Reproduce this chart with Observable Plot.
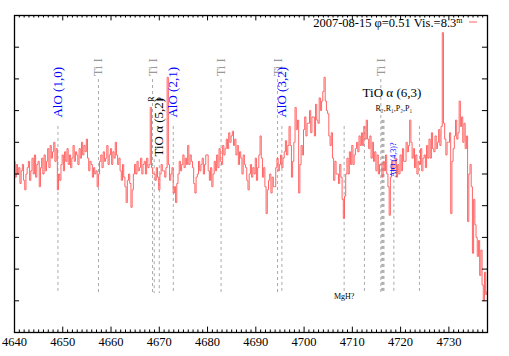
<!DOCTYPE html>
<html><head><meta charset="utf-8">
<script src="https://cdn.jsdelivr.net/npm/d3@7"></script>
<script src="https://cdn.jsdelivr.net/npm/@observablehq/plot@0.6"></script>
<style>
body{margin:0;background:#fff}
#chart svg, #chart svg text{font-family:'Liberation Serif','Times New Roman',serif !important}
</style>
</head><body><div id="chart"></div>
<script>
// spectrum sampled 4 points per Angstrom starting at 4640 A
const lambdaStart = 4640;
const pointsPerAngstrom = 4;
const flux = [
/*4640*/5.4,4.9,5.3,5.0, /*4641*/5.2,4.7,5.1,5.3, /*4642*/4.8,4.5,5.0,5.2, /*4643*/5.4,4.8,5.1,5.5,
/*4644*/5.0,5.6,4.9,5.3, /*4645*/5.4,4.6,5.2,5.5, /*4646*/5.0,5.6,5.1,5.4, /*4647*/5.8,5.2,5.9,5.5,
/*4648*/5.7,6.0,5.4,5.8, /*4649*/4.5,5.0,4.8,5.3, /*4650*/5.6,5.1,5.7,5.4, /*4651*/5.8,5.3,5.6,5.2,
/*4652*/5.5,5.9,5.4,5.7, /*4653*/5.6,5.3,5.8,5.5, /*4654*/6.0,5.6,5.9,5.7, /*4655*/6.1,5.5,5.1,5.4,
/*4656*/5.3,4.9,5.2,5.0, /*4657*/5.1,4.6,5.0,5.4, /*4658*/5.6,5.2,5.7,5.4, /*4659*/5.5,5.9,5.3,5.6,
/*4660*/5.8,5.3,5.7,5.5, /*4661*/6.0,5.6,5.3,5.5, /*4662*/5.1,4.8,5.3,4.9, /*4663*/4.6,4.1,4.8,5.0,
/*4664*/4.7,3.95,4.5,5.0, /*4665*/5.3,5.0,5.4,5.1, /*4666*/5.2,5.5,5.0,5.3, /*4667*/5.4,5.0,5.5,5.2,
/*4668*/5.3,7.1,5.2,5.0, /*4669*/5.0,4.8,5.2,4.9, /*4670*/4.5,5.0,5.3,5.1, /*4671*/5.1,4.9,5.2,8.05,
/*4672*/5.3,4.8,5.0,5.2, /*4673*/4.4,4.6,4.1,4.7, /*4674*/5.0,5.4,5.1,5.3, /*4675*/5.6,5.2,5.5,5.3,
/*4676*/5.9,5.3,5.6,5.4, /*4677*/5.2,4.7,4.4,4.9, /*4678*/5.0,5.4,5.1,5.3, /*4679*/5.5,5.0,5.3,5.6,
/*4680*/5.6,5.1,4.8,5.2, /*4681*/4.6,5.0,5.4,5.1, /*4682*/5.6,5.2,5.8,5.4, /*4683*/5.3,5.9,5.6,5.8,
/*4684*/6.1,5.8,6.3,6.0, /*4685*/6.2,6.35,5.9,6.1, /*4686*/5.6,5.9,5.3,5.7, /*4687*/5.5,5.0,5.6,5.3,
/*4688*/5.2,4.8,4.5,5.0, /*4689*/5.3,4.9,5.2,5.0, /*4690*/5.5,4.8,5.2,5.6, /*4691*/6.2,5.5,4.9,5.2,
/*4692*/4.6,3.75,4.5,4.8, /*4693*/5.0,4.4,4.9,4.6, /*4694*/4.6,5.2,5.5,5.1, /*4695*/5.3,5.6,5.2,5.5,
/*4696*/5.7,6.05,5.6,5.9, /*4697*/6.5,5.9,4.9,5.4, /*4698*/6.0,7.1,6.4,6.7, /*4699*/4.4,5.3,5.9,5.6,
/*4700*/6.4,6.8,6.2,6.6, /*4701*/6.6,7.0,6.3,6.8, /*4702*/6.8,6.2,7.2,6.7, /*4703*/6.6,7.4,7.0,7.3,
/*4704*/7.6,8.05,7.3,7.0, /*4705*/6.9,6.2,5.9,6.3, /*4706*/5.5,4.8,5.4,5.0, /*4707*/5.0,4.7,5.3,4.9,
/*4708*/4.2,3.6,4.3,5.0, /*4709*/5.5,5.0,5.7,5.3, /*4710*/5.9,5.3,5.6,5.8, /*4711*/6.0,5.7,6.2,5.9,
/*4712*/6.3,5.9,6.5,6.1, /*4713*/6.7,6.1,5.8,6.2, /*4714*/5.5,6.0,5.4,5.7, /*4715*/5.1,5.6,5.0,5.3,
/*4716*/5.3,4.9,5.4,5.1, /*4717*/5.6,5.0,4.6,3.7, /*4718*/4.9,5.4,5.1,5.3, /*4719*/5.5,4.9,5.3,5.0,
/*4720*/5.6,5.1,5.8,5.4, /*4721*/5.4,6.0,5.7,5.9, /*4722*/6.7,6.0,5.5,5.8, /*4723*/5.2,5.6,5.0,5.4,
/*4724*/5.3,5.8,5.1,5.5, /*4725*/5.6,5.2,5.9,5.5, /*4726*/6.1,5.5,6.3,5.8, /*4727*/5.7,6.2,5.8,6.0,
/*4728*/6.4,5.9,6.5,9.46, /*4729*/6.6,6.1,5.6,6.0, /*4730*/6.0,6.3,3.75,5.4, /*4731*/5.8,6.2,6.7,6.1,
/*4732*/6.3,7.3,6.5,6.8, /*4733*/6.0,6.6,5.8,6.2, /*4734*/3.5,5.0,5.3,4.6, /*4735*/2.5,4.2,3.4,3.0,
/*4736*/2.4,2.9,1.8,2.6, /*4737*/1.5,1.0,1.9,1.2, /*4738*/1.3
];

const xTickLabels = [4640,4650,4660,4670,4680,4690,4700,4710,4720,4730];
const yTickValues = [1,2,3,4,5,6,7,8,9];

const tiLines = [4657.4, 4668.6, 4682.8, 4694.5, 4715.9];
const tiLabel = "Ti I";
const aloLines = [4649.0, 4672.9, 4695.4];
const aloLabels = ["AlO (1,0)", "AlO (2,1)", "AlO (3,2)"];
const tio52Lines = [4668.95, 4670.0];
const tio52Branches = ["R", "P"];
const tio52Label = "TiO α (5,2)";
const tio63Lines = [4716.1, 4716.25, 4716.4, 4716.55];
const tio63Label = "TiO α (6,3)";
const tio63Branches = "R₂,R₁,P₂,P₁";
const mghLine = [4708.3];
const mghLabel = "MgH?";
const alo43Line = [4718.6];
const alo43Label = "AlO (4,3)?";
const otherLines = [4712.5, 4723.9];
const legendText = "2007-08-15 φ=0.51 Vis.=8.3";
const legendSup = "m";

const X0 = 4640, X1 = 4738;
const data = flux.map((f, i) => ({w: lambdaStart + i / pointsPerAngstrom, f}));
const minorTicks = d3.range(X0 + 1, X1).filter(d => d % 10 !== 0);

const serif = "'Liberation Serif', 'Times New Roman', serif";
const dashed = {stroke: "#aaa", strokeDasharray: "3,3", strokeWidth: 1};
const lineBottom = 1.23;
const red = "#ff6464";
const W = 509, H = 356, ML = 14, MR = 22, MT = 15, MB = 24;

const plot = Plot.plot({
  width: W, height: H,
  marginLeft: ML, marginRight: MR, marginTop: MT, marginBottom: MB,
  x: {domain: [X0, X1], label: null},
  y: {domain: [0, 10], axis: null},
  style: {fontFamily: serif, fontSize: "12px", color: "black", background: "white"},
  marks: [
    Plot.ruleX(tiLines, {x: d => d, y1: 7.98, y2: lineBottom, ...dashed}),
    Plot.ruleX(aloLines, {x: d => d, y1: 6.5, y2: lineBottom, ...dashed}),
    Plot.ruleX(tio52Lines, {x: d => d, y1: 5.45, y2: lineBottom, ...dashed}),
    Plot.ruleX(tio63Lines, {x: d => d, y1: 6.69, y2: lineBottom, ...dashed}),
    Plot.ruleX(mghLine, {x: d => d, y1: 6.5, y2: lineBottom, ...dashed}),
    Plot.ruleX(alo43Line, {x: d => d, y1: 4.8, y2: lineBottom, ...dashed}),
    Plot.ruleX(otherLines, {x: d => d, y1: 6.5, y2: lineBottom, ...dashed}),

    Plot.line(data, {x: "w", y: "f", curve: "step", stroke: red, strokeWidth: 1}),

    Plot.text(tiLines, {x: d => d, y: 8.08, text: () => tiLabel, rotate: -90, textAnchor: "start", fill: "#999", fontSize: 12.5}),
    Plot.text(aloLines, {x: d => d, y: 6.78, text: (d, i) => aloLabels[i], rotate: -90, textAnchor: "start", fill: "blue", fontSize: 13}),
    Plot.text([tio52Label], {x: 4669.9, y: 5.55, text: d => d, rotate: -90, textAnchor: "start", fill: "black", fontSize: 13}),
    Plot.text(tio52Branches, {x: (d, i) => [4668.4, 4670.3][i], y: 7.36, text: d => d, rotate: -90, textAnchor: "middle", fill: "black", fontSize: 8}),
    Plot.text([tio63Label], {x: 4718.2, y: 7.56, text: d => d, fill: "black", fontSize: 13}),
    Plot.text([tio63Branches], {x: 4718.6, y: 7.07, text: d => d, fill: "black", fontSize: 8}),
    Plot.text([alo43Label], {x: alo43Line[0], y: 4.9, text: d => d, rotate: -90, textAnchor: "start", fill: "blue", fontSize: 8}),
    Plot.text([mghLabel], {x: mghLine[0], y: 1.15, text: d => d, fill: "black", fontSize: 8}),

    Plot.text([legendText], {frameAnchor: "top-right", dx: -25, dy: 7, lineAnchor: "middle", textAnchor: "end", text: d => d, fontSize: 12.5, fill: "black"}),

    Plot.ruleY(yTickValues, {y: d => d, x1: X0, x2: X0 + 1.05, stroke: "black", strokeWidth: 1}),
    Plot.ruleY(yTickValues, {y: d => d, x1: X1 - 1.05, x2: X1, stroke: "black", strokeWidth: 1}),
    Plot.ruleX(xTickLabels, {x: d => d, y1: 0, y2: 0.17, stroke: "black", strokeWidth: 1}),
    Plot.ruleX(xTickLabels, {x: d => d, y1: 10, y2: 9.83, stroke: "black", strokeWidth: 1}),
    Plot.ruleX(minorTicks, {x: d => d, y1: 0, y2: 0.08, stroke: "black", strokeWidth: 1}),
    Plot.ruleX(minorTicks, {x: d => d, y1: 10, y2: 9.92, stroke: "black", strokeWidth: 1}),
    Plot.axisX({ticks: xTickLabels, tickSize: 0, tickPadding: 5, tickFormat: d => String(d), fontSize: 12.5, label: null}),
    Plot.frame({stroke: "black", strokeWidth: 1.3})
  ]
});

// superscript on the legend text and the key sample
const svg = d3.select(plot);
svg.selectAll("text").filter(function() { return this.textContent === legendText; }).each(function() {
  const t = d3.select(this);
  t.text(null);
  t.append("tspan").text(legendText);
  t.append("tspan").attr("dy", "-0.45em").attr("font-size", "8px").text(legendSup);
});
svg.append("line")
  .attr("x1", W - MR - 18).attr("x2", W - MR - 10)
  .attr("y1", MT + 7).attr("y2", MT + 7)
  .attr("stroke", red).attr("stroke-width", 1);

document.getElementById("chart").appendChild(plot);
</script>
</body></html>
